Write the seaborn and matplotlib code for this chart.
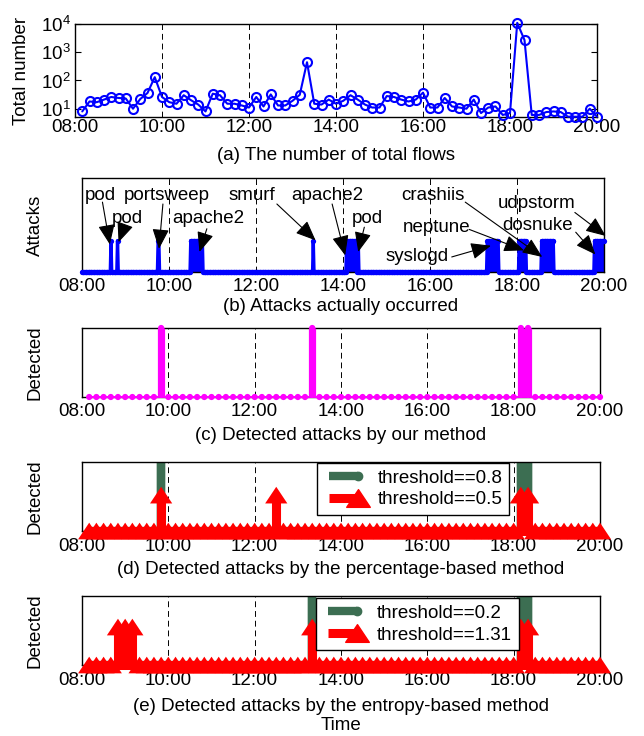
import numpy as np
import pandas as pd
import seaborn as sns
import matplotlib
matplotlib.use("Agg")
import matplotlib.pyplot as plt
from matplotlib.path import Path
from matplotlib.lines import Line2D
from matplotlib.legend_handler import HandlerLine2D
from matplotlib.ticker import FixedLocator, FuncFormatter, LogLocator, NullFormatter, LogFormatterSciNotation

# ------------------------------------------------------------------ data
# 10-minute bins, 08:10 ... 20:00 (bin end times, minutes after 08:00)
bin_minutes = np.arange(10, 721, 10)

# (a) number of total flows per bin
total_flows = [8, 18, 17, 21, 26, 24, 23, 10, 22, 36,
               131, 26, 17, 15, 30, 20, 14, 8, 34, 30,
               15, 15, 13, 11, 26, 12, 32, 13, 13, 19,
               31, 443, 15, 14, 21, 15, 19, 30, 21, 14,
               11, 11, 28, 26, 21, 18, 21, 37, 11, 11,
               24, 12, 11, 10, 21, 7, 11, 12, 6, 7,
               11000, 2700, 6, 6, 7.6, 8, 7.6, 5.2, 5.2, 5.2, 10, 5.2]

# (b) attacks actually occurred (start / end minute after 08:00)
attack_start = [40, 49, 105, 150, 319, 365, 381, 559, 603, 634, 707]
attack_end = [40, 49, 106, 166, 319, 378, 381, 574, 612, 650, 720]

# annotation labels of (b)
ann_text = ["pod", "portsweep", "pod", "apache2", "smurf", "apache2", "pod",
            "syslogd", "crashiis", "neptune", "udpstorm", "dosnuke"]

# (c)-(e) detections (bin end times) and plotted levels
ours_times = ["09:50", "13:20", "18:10", "18:20"]
perc08_times = ["09:50", "18:10", "18:20"]
perc05_times = ["09:50", "12:30", "18:10", "18:20"]
ent02_times = ["13:20", "18:10", "18:20"]
ent131_times = ["08:50", "09:00", "09:10", "13:20", "18:10", "18:20"]
ours_level = 1.0
green_level = 1.0
perc05_level = 0.52
ent131_level = 0.55

hour_ticks = [8, 10, 12, 14, 16, 18, 20]

# ------------------------------------------------------------------ helpers
bin_hours = 8 + bin_minutes / 60.0


def to_series(times, level):
    v = np.zeros(len(bin_minutes))
    for s in times:
        h, m = s.split(":")
        mins = (int(h) - 8) * 60 + int(m)
        v[np.where(bin_minutes == mins)[0][0]] = level
    return v


def spike_xy(t, v):
    xs, ys = [], []
    for ti, vi in zip(t, v):
        if vi > 0:
            xs += [ti, ti, ti]
            ys += [0, vi, 0]
        else:
            xs.append(ti)
            ys.append(0)
    return np.array(xs), np.array(ys)


ours = to_series(ours_times, ours_level)
perc08 = to_series(perc08_times, green_level)
perc05 = to_series(perc05_times, perc05_level)
ent02 = to_series(ent02_times, green_level)
ent131 = to_series(ent131_times, ent131_level)

minutes_b = np.arange(0, 721)
hours_b = 8 + minutes_b / 60.0
attack = np.zeros(len(minutes_b))
for s, e in zip(attack_start, attack_end):
    attack[s:e + 1] = 1

# ------------------------------------------------------------------ style
sns.set_style("white")
plt.rcParams.update({
    "font.family": ["Liberation Sans", "DejaVu Sans"],
    "font.size": 13.5,
    "mathtext.default": "regular",
    "axes.edgecolor": "black",
    "axes.linewidth": 1.0,
    "xtick.color": "black",
    "ytick.color": "black",
    "text.color": "black",
    "axes.labelcolor": "black",
})

W, H = 644, 736
fig = plt.figure(figsize=(W / 100, H / 100), dpi=100)


def rect(l, r, t, b):
    return [l / W, 1 - b / H, (r - l) / W, (b - t) / H]


BLUE = "#0000ff"
MAG = "#ff00ff"
RED = "#ff0000"
GREEN = "#3c6e52"

tri = Path([(-1, -0.75), (1, -0.75), (0, 0.75), (-1, -0.75)],
           [Path.MOVETO, Path.LINETO, Path.LINETO, Path.CLOSEPOLY])


def time_axis(ax, pad):
    ax.set_xlim(8, 20)
    ax.xaxis.set_major_locator(FixedLocator(hour_ticks))
    ax.xaxis.set_major_formatter(FuncFormatter(lambda v, p: f"{int(round(v)):02d}:00"))
    ax.tick_params(axis="x", length=0, pad=pad, labelsize=13.5)
    ax.grid(axis="x", color="black", linestyle=(0, (6, 4)), linewidth=0.7)
    ax.grid(axis="y", visible=False)
    ax.set_axisbelow(True)
    for sp in ax.spines.values():
        sp.set_visible(True)
        sp.set_color("black")
        sp.set_linewidth(1.0)


def ylab(ax, text, x, t, b):
    ax.set_ylabel(text, va="center", fontsize=13.5)
    ax.yaxis.set_label_coords(x / W, 1 - (t + b) / 2 / H, transform=fig.transFigure)


def cap(ax, text, x, y):
    ax.set_xlabel(text, va="center", fontsize=13.5)
    ax.xaxis.set_label_coords(x / W, 1 - y / H, transform=fig.transFigure)


# ------------------------------------------------------------------ (a)
axa = fig.add_axes(rect(75, 597, 24, 117))
sns.lineplot(x=bin_hours, y=total_flows, ax=axa, color=BLUE, linewidth=1.5,
             marker="o", markersize=6.5, markerfacecolor="none",
             markeredgecolor=BLUE, markeredgewidth=1.5, clip_on=False, zorder=3)
axa.set_yscale("log")
axa.set_ylim(5.08, 1e4)
time_axis(axa, pad=1.5)
axa.yaxis.set_major_locator(FixedLocator([10, 100, 1000, 10000]))
axa.yaxis.set_major_formatter(LogFormatterSciNotation())
axa.yaxis.set_minor_locator(LogLocator(base=10, subs=np.arange(2, 10)))
axa.yaxis.set_minor_formatter(NullFormatter())
axa.tick_params(axis="y", which="major", direction="in", length=4, width=0.8,
                left=True, right=True, pad=3, labelsize=13.5)
axa.tick_params(axis="y", which="minor", direction="in", length=2, width=0.6,
                left=True, right=True)
ylab(axa, "Total number", 22, 24, 117)
cap(axa, "(a) The number of total flows", 336, 155)

# ------------------------------------------------------------------ (b)
axb = fig.add_axes(rect(82, 604, 178, 272))
axb.vlines(hours_b[attack > 0], 0, attack[attack > 0], color=BLUE, linewidth=0.75, zorder=2)
sns.lineplot(x=hours_b, y=attack, ax=axb, color=BLUE, linewidth=2.4,
             marker="o", markersize=3.8, markeredgewidth=0, clip_on=False, zorder=3)
axb.set_ylim(0, 3)
axb.set_yticks([])
time_axis(axb, pad=4)
ylab(axb, "Attacks", 35, 178, 272)
cap(axb, "(b) Attacks actually occurred", 341, 306.7)

ann_xy_text = [(8.42, 2.44), (9.94, 2.44), (9.05, 1.70), (10.90, 1.70), (11.91, 2.44),
               (13.63, 2.44), (14.56, 1.70), (15.70, 0.48), (16.07, 2.44), (16.15, 1.43),
               (18.45, 2.18), (18.48, 1.48)]
ann_tail = [(8.47, 2.23), (9.86, 2.17), (8.98, 1.48), (10.87, 1.38), (12.48, 2.17),
            (13.75, 2.17), (14.49, 1.43), (16.50, 0.48), (16.81, 2.23), (16.90, 1.36),
            (19.33, 1.90), (19.35, 1.27)]
ann_head = [(8.64, 0.88), (9.77, 0.74), (8.84, 0.95), (10.70, 0.64), (13.37, 1.01),
            (14.05, 0.53), (14.35, 0.64), (17.40, 0.84), (18.58, 0.48), (18.16, 0.69),
            (20.04, 1.15), (19.80, 0.56)]
for txt, pos, tail, head in zip(ann_text, ann_xy_text, ann_tail, ann_head):
    axb.text(pos[0], pos[1], txt, ha="center", va="center", fontsize=13.5, zorder=5)
    axb.annotate("", xy=head, xytext=tail, annotation_clip=False,
                 arrowprops=dict(arrowstyle="-|>,head_length=0.95,head_width=0.4",
                                 mutation_scale=13, color="black", lw=0.8,
                                 shrinkA=0, shrinkB=0), zorder=6)

# ------------------------------------------------------------------ (c)
axc = fig.add_axes(rect(82, 600, 328, 397))
xs, ys = spike_xy(bin_hours, ours)
sns.lineplot(x=xs, y=ys, ax=axc, sort=False, estimator=None, color=MAG,
             linewidth=1.4, clip_on=False, zorder=3)
axc.vlines(bin_hours[ours > 0], 0, ours[ours > 0], color=MAG, linewidth=5.2, zorder=3)
sns.scatterplot(x=bin_hours, y=ours, ax=axc, color=MAG, s=20, marker="o",
                linewidth=0, edgecolor="none", clip_on=False, zorder=4)
axc.set_ylim(0, 1)
axc.set_yticks([])
time_axis(axc, pad=4)
ylab(axc, "Detected", 35, 328, 397)
cap(axc, "(c) Detected attacks by our method", 341, 435)


# ------------------------------------------------------------------ (d), (e)
class RightMarker(HandlerLine2D):
    def create_artists(self, legend, orig_handle, xdescent, ydescent, width,
                       height, fontsize, trans):
        arts = super().create_artists(legend, orig_handle, xdescent, ydescent,
                                      width, height, fontsize, trans)
        for a in arts:
            if isinstance(a, Line2D) and len(a.get_xdata()) > 1:
                xd = np.asarray(a.get_xdata(), dtype=float)
                xd[-1] = xd[-1] + 2
                a.set_xdata(xd)
                a.set_markevery([len(xd) - 1])
        return arts


def detect_panel(ax, green, red, lab_g, lab_r, leg_xy):
    gx, gy = spike_xy(bin_hours, green)
    sns.lineplot(x=gx, y=gy, ax=ax, sort=False, estimator=None, color=GREEN,
                 linewidth=6.0, solid_joinstyle="bevel", solid_capstyle="butt", zorder=2)
    rx, ry = spike_xy(bin_hours, red)
    sns.lineplot(x=rx, y=ry, ax=ax, sort=False, estimator=None, color=RED,
                 linewidth=6.5, solid_joinstyle="bevel", solid_capstyle="butt",
                 clip_on=False, zorder=3)
    sns.scatterplot(x=bin_hours, y=red, ax=ax, color=RED, marker=tri, s=16 ** 2,
                    linewidth=0, edgecolor="none", clip_on=False, zorder=4)
    ax.set_ylim(0, 1)
    ax.set_yticks([])
    time_axis(ax, pad=5)
    h_g = Line2D([], [], color=GREEN, linewidth=6.0, marker="o", markersize=6,
                 markerfacecolor=GREEN, markeredgecolor=GREEN, solid_capstyle="butt")
    h_r = Line2D([], [], color=RED, linewidth=6.5, marker=tri, markersize=17,
                 markerfacecolor=RED, markeredgecolor=RED, solid_capstyle="butt")
    leg = ax.legend([h_g, h_r], [lab_g, lab_r], loc="upper left",
                    bbox_to_anchor=(leg_xy[0] / W, 1 - leg_xy[1] / H),
                    bbox_transform=fig.transFigure, borderaxespad=0,
                    frameon=True, fancybox=False, framealpha=1, edgecolor="black",
                    fontsize=13.5, handlelength=2.0, handletextpad=0.9,
                    labelspacing=0.25, borderpad=0.35, numpoints=2,
                    handler_map={Line2D: RightMarker(numpoints=2)})
    leg.get_frame().set_linewidth(1.0)
    leg.set_zorder(10)


axd = fig.add_axes(rect(82, 600, 462, 531))
detect_panel(axd, perc08, perc05, "threshold==0.8", "threshold==0.5", (317, 463))
ylab(axd, "Detected", 35, 462, 531)
cap(axd, "(d) Detected attacks by the percentage-based method", 341, 570)

axe = fig.add_axes(rect(82, 600, 596, 665))
detect_panel(axe, ent02, ent131, "threshold==0.2", "threshold==1.31", (316, 598))
ylab(axe, "Detected", 35, 596, 665)
cap(axe, "(e) Detected attacks by the entropy-based method", 341, 706.7)
fig.text(341 / W, 1 - 725 / H, "Time", ha="center", va="center", fontsize=13.5)

fig.savefig("out.png", dpi=100, facecolor="white")
